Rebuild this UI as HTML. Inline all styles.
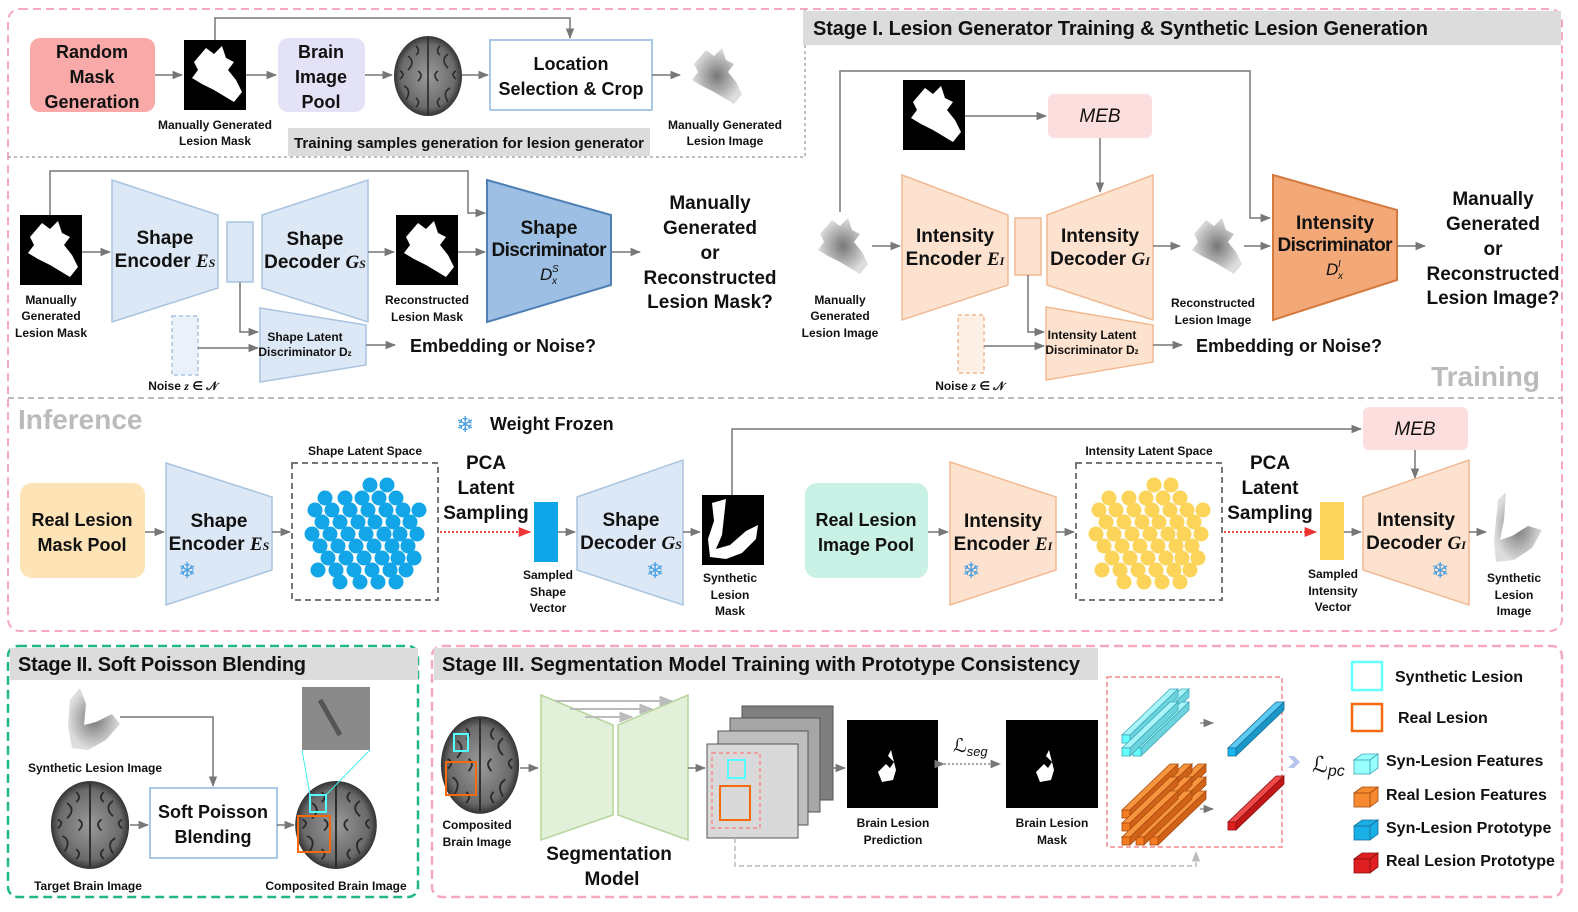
<!DOCTYPE html>
<html><head><meta charset="utf-8"><style>
html,body{margin:0;padding:0;background:#fff}
svg{display:block}
text{font-family:"Liberation Sans","DejaVu Sans",sans-serif;fill:#111}
.b{font-weight:bold}
.s{font-size:12px;font-weight:bold}
.m{font-size:18px;font-weight:bold}
.l{font-size:19px;font-weight:bold}
.sf{font-family:"DejaVu Sans",sans-serif;fill:#4a9fe0;font-size:22px}
</style></head><body>
<svg width="1578" height="912" viewBox="0 0 1578 912" xmlns="http://www.w3.org/2000/svg">
<defs>
<marker id="ar" viewBox="0 0 10 10" refX="9" refY="5" markerWidth="7" markerHeight="7" orient="auto"><path d="M0,1L10,5L0,9z" fill="#777"/></marker>
<marker id="arr" viewBox="0 0 10 10" refX="9" refY="5" markerWidth="7" markerHeight="7" orient="auto"><path d="M0,1L10,5L0,9z" fill="#e33"/></marker>
<marker id="arl" viewBox="0 0 10 10" refX="9" refY="5" markerWidth="7" markerHeight="7" orient="auto"><path d="M0,1L10,5L0,9z" fill="#bbb"/></marker>
<radialGradient id="brain" cx="50%" cy="50%" r="50%"><stop offset="0" stop-color="#9a9a9a"/><stop offset="0.8" stop-color="#6a6a6a"/><stop offset="1" stop-color="#333"/></radialGradient>
<radialGradient id="les" cx="50%" cy="50%" r="50%"><stop offset="0" stop-color="#777"/><stop offset="1" stop-color="#ddd"/></radialGradient>
<g id="mask"><rect width="62" height="70" fill="#000"/><path d="M10,22 L22,8 L30,14 L38,6 L42,18 L50,22 L44,30 L52,40 L58,52 L50,62 L40,56 L30,50 L18,44 L8,38 L14,30z" fill="#fff"/></g>
<g id="lesimg"><path d="M10,22 L22,8 L30,14 L38,6 L42,18 L50,22 L44,30 L52,40 L58,52 L50,62 L40,56 L30,50 L18,44 L8,38 L14,30z" fill="url(#les)"/></g>
<g id="brainimg"><ellipse cx="0" cy="0" rx="34" ry="40" fill="url(#brain)"/><path d="M0,-38 L0,38 M-20,-20 q8,6 0,14 M20,-22 q-8,6 0,14 M-24,10 q8,4 2,14 M22,12 q-8,4 -2,14 M-10,-5 q6,4 0,10 M10,-5 q-6,4 0,10 M-28,-5 q6,3 0,8 M28,-5 q-6,3 0,8 M-12,-30 q5,5 0,9 M12,-30 q-5,5 0,9 M-12,22 q5,4 0,9 M12,22 q-5,4 0,9" stroke="#2a2a2a" stroke-width="1.6" fill="none"/></g>
<g id="dots">
<circle cx="70" cy="15" r="7.5"/><circle cx="87" cy="15" r="7.5"/>
<circle cx="25" cy="28" r="7.5"/><circle cx="45" cy="28" r="7.5"/><circle cx="62" cy="28" r="7.5"/><circle cx="79" cy="28" r="7.5"/><circle cx="96" cy="28" r="7.5"/>
<circle cx="15" cy="40" r="7.5"/><circle cx="32" cy="40" r="7.5"/><circle cx="50" cy="40" r="7.5"/><circle cx="68" cy="40" r="7.5"/><circle cx="86" cy="40" r="7.5"/><circle cx="103" cy="40" r="7.5"/><circle cx="119" cy="40" r="7.5"/>
<circle cx="22" cy="52" r="7.5"/><circle cx="40" cy="52" r="7.5"/><circle cx="58" cy="52" r="7.5"/><circle cx="75" cy="52" r="7.5"/><circle cx="93" cy="52" r="7.5"/><circle cx="110" cy="52" r="7.5"/>
<circle cx="12" cy="64" r="7.5"/><circle cx="30" cy="64" r="7.5"/><circle cx="48" cy="64" r="7.5"/><circle cx="66" cy="64" r="7.5"/><circle cx="84" cy="64" r="7.5"/><circle cx="100" cy="64" r="7.5"/><circle cx="117" cy="64" r="7.5"/>
<circle cx="20" cy="76" r="7.5"/><circle cx="38" cy="76" r="7.5"/><circle cx="56" cy="76" r="7.5"/><circle cx="74" cy="76" r="7.5"/><circle cx="92" cy="76" r="7.5"/><circle cx="108" cy="76" r="7.5"/>
<circle cx="28" cy="88" r="7.5"/><circle cx="46" cy="88" r="7.5"/><circle cx="64" cy="88" r="7.5"/><circle cx="82" cy="88" r="7.5"/><circle cx="98" cy="88" r="7.5"/><circle cx="114" cy="88" r="7.5"/>
<circle cx="18" cy="100" r="7.5"/><circle cx="36" cy="100" r="7.5"/><circle cx="54" cy="100" r="7.5"/><circle cx="72" cy="100" r="7.5"/><circle cx="90" cy="100" r="7.5"/><circle cx="106" cy="100" r="7.5"/>
<circle cx="40" cy="112" r="7.5"/><circle cx="60" cy="112" r="7.5"/><circle cx="78" cy="112" r="7.5"/><circle cx="96" cy="112" r="7.5"/>
</g>
<g id="barC" stroke="#3aa8b8" stroke-width="0.8"><path d="M0,0L48,-46L56,-46L8,0z" fill="#a8f4fa"/><path d="M8,0L56,-46L56,-38L8,8z" fill="#6cd3dc"/><rect width="8" height="8" fill="#6ff"/></g>
<g id="barO" stroke="#a94a10" stroke-width="0.8"><path d="M0,0L48,-46L56,-46L8,0z" fill="#f7943e"/><path d="M8,0L56,-46L56,-38L8,8z" fill="#d06318"/><rect width="8" height="8" fill="#f57b20"/></g>
<g id="barB" stroke="#1a6f9a" stroke-width="0.8"><path d="M0,0L48,-46L56,-46L8,0z" fill="#5ccaf2"/><path d="M8,0L56,-46L56,-38L8,8z" fill="#1c98c8"/><rect width="8" height="8" fill="#19b8f0"/></g>
<g id="barR" stroke="#8a1010" stroke-width="0.8"><path d="M0,0L48,-46L56,-46L8,0z" fill="#ee4a4a"/><path d="M8,0L56,-46L56,-38L8,8z" fill="#c01818"/><rect width="8" height="8" fill="#e02020"/></g>
<g id="cube" stroke-width="0.8"><path d="M0,6L8,0L24,0L16,6z"/><path d="M16,6L24,0L24,14L16,20z"/><rect y="6" width="16" height="14"/></g>
</defs>

<rect x="8" y="9" width="1554" height="622" rx="12" fill="none" stroke="#f6a9bd" stroke-width="2" stroke-dasharray="8,5"/>
<path d="M8,157 H805 V9" fill="none" stroke="#aaa" stroke-width="1.5" stroke-dasharray="3,3"/>
<rect x="803" y="11" width="758" height="34" fill="#dcdcdc"/>
<text x="813" y="35" font-size="20" class="b" textLength="615">Stage I. Lesion Generator Training &amp; Synthetic Lesion Generation</text>
<line x1="8" y1="398" x2="1562" y2="398" stroke="#bbb" stroke-width="2" stroke-dasharray="6,4"/>

<rect x="30" y="38" width="125" height="74" rx="10" fill="#f9a9a8"/>
<text class="m" text-anchor="middle"><tspan x="92" y="58">Random</tspan><tspan x="92" y="83">Mask</tspan><tspan x="92" y="108">Generation</tspan></text>
<line x1="155" y1="75" x2="182" y2="75" stroke="#777" stroke-width="1.5" marker-end="url(#ar)"/>
<use href="#mask" x="184" y="40"/>
<text class="s" text-anchor="middle"><tspan x="215" y="129">Manually Generated</tspan><tspan x="215" y="145">Lesion Mask</tspan></text>
<path d="M215,40 V18 H570 V38" fill="none" stroke="#777" stroke-width="1.5" marker-end="url(#ar)"/>
<line x1="246" y1="75" x2="276" y2="75" stroke="#777" stroke-width="1.5" marker-end="url(#ar)"/>
<rect x="278" y="38" width="87" height="74" rx="10" fill="#e4e2f7"/>
<text class="m" text-anchor="middle"><tspan x="321" y="58">Brain</tspan><tspan x="321" y="83">Image</tspan><tspan x="321" y="108">Pool</tspan></text>
<line x1="365" y1="75" x2="392" y2="75" stroke="#777" stroke-width="1.5" marker-end="url(#ar)"/>
<use href="#brainimg" x="428" y="76"/>
<line x1="462" y1="75" x2="488" y2="75" stroke="#777" stroke-width="1.5" marker-end="url(#ar)"/>
<rect x="490" y="40" width="162" height="70" fill="#fff" stroke="#a9c7e6" stroke-width="2"/>
<text class="m" text-anchor="middle"><tspan x="571" y="70">Location</tspan><tspan x="571" y="95">Selection &amp; Crop</tspan></text>
<line x1="652" y1="75" x2="680" y2="75" stroke="#777" stroke-width="1.5" marker-end="url(#ar)"/>
<use href="#lesimg" x="684" y="42"/>
<text class="s" text-anchor="middle"><tspan x="725" y="129">Manually Generated</tspan><tspan x="725" y="145">Lesion Image</tspan></text>
<rect x="288" y="128" width="362" height="28" fill="#dcdcdc"/>
<text x="469" y="148" font-size="15" class="b" text-anchor="middle" textLength="350">Training samples generation for lesion generator</text>

<use href="#mask" x="20" y="215"/>
<text class="s" text-anchor="middle"><tspan x="51" y="304">Manually</tspan><tspan x="51" y="320">Generated</tspan><tspan x="51" y="337">Lesion Mask</tspan></text>
<path d="M50,215 V171 H468 V213 H485" fill="none" stroke="#777" stroke-width="1.5" marker-end="url(#ar)"/>
<line x1="82" y1="252" x2="110" y2="252" stroke="#777" stroke-width="1.5" marker-end="url(#ar)"/>
<path d="M112,180 L218,215 L218,288 L112,322z" fill="#dce8f5" stroke="#a9c3e0" stroke-width="1.5"/>
<text class="l" text-anchor="middle" font-size="17"><tspan x="165" y="244">Shape</tspan><tspan x="165" y="267">Encoder <tspan font-style="italic" font-family="Liberation Serif">E</tspan><tspan font-size="12" font-style="italic" font-family="Liberation Serif">S</tspan></tspan></text>
<rect x="227" y="222" width="26" height="60" fill="#dce8f5" stroke="#a9c3e0" stroke-width="1.5"/>
<path d="M262,215 L368,180 L368,322 L262,288z" fill="#dce8f5" stroke="#a9c3e0" stroke-width="1.5"/>
<text class="l" text-anchor="middle" font-size="17"><tspan x="315" y="245">Shape</tspan><tspan x="315" y="268">Decoder <tspan font-style="italic" font-family="Liberation Serif">G</tspan><tspan font-size="12" font-style="italic" font-family="Liberation Serif">S</tspan></tspan></text>
<line x1="368" y1="252" x2="394" y2="252" stroke="#777" stroke-width="1.5" marker-end="url(#ar)"/>
<use href="#mask" x="396" y="215"/>
<text class="s" text-anchor="middle"><tspan x="427" y="304">Reconstructed</tspan><tspan x="427" y="321">Lesion Mask</tspan></text>
<line x1="458" y1="252" x2="485" y2="252" stroke="#777" stroke-width="1.5" marker-end="url(#ar)"/>
<path d="M487,180 L611,215 L611,285 L487,322z" fill="#9dbfe3" stroke="#4f7fb5" stroke-width="2"/>
<text class="l" text-anchor="middle" font-size="15"><tspan x="549" y="234">Shape</tspan><tspan x="549" y="256" textLength="115">Discriminator</tspan></text>
<text x="540" y="280" font-size="17" font-style="italic" font-family="Liberation Serif">D</text><text x="552" y="272" font-size="10" font-style="italic" font-family="Liberation Serif">S</text><text x="552" y="284" font-size="10" font-style="italic" font-family="Liberation Serif">x</text>
<line x1="611" y1="252" x2="640" y2="252" stroke="#777" stroke-width="1.5" marker-end="url(#ar)"/>
<text class="l" text-anchor="middle"><tspan x="710" y="209">Manually</tspan><tspan x="710" y="234">Generated</tspan><tspan x="710" y="259">or</tspan><tspan x="710" y="284">Reconstructed</tspan><tspan x="710" y="308">Lesion Mask?</tspan></text>
<path d="M240,282 V332 H258" fill="none" stroke="#777" stroke-width="1.5" marker-end="url(#ar)"/>
<rect x="172" y="316" width="26" height="59" fill="#eaf1fa" stroke="#a9c3e0" stroke-width="1.5" stroke-dasharray="4,3"/>
<line x1="198" y1="348" x2="258" y2="348" stroke="#777" stroke-width="1.5" marker-end="url(#ar)"/>
<path d="M260,308 L366,325 L366,365 L260,382z" fill="#dce8f5" stroke="#a9c3e0" stroke-width="1.5"/>
<text class="s" text-anchor="middle" font-size="11"><tspan x="305" y="341">Shape Latent</tspan><tspan x="305" y="356">Discriminator D<tspan font-size="8">z</tspan></tspan></text>
<text x="183" y="390" class="s" font-size="14" text-anchor="middle">Noise <tspan font-style="italic" font-family="Liberation Serif">z</tspan> ∈ 𝒩</text>
<line x1="366" y1="345" x2="395" y2="345" stroke="#777" stroke-width="1.5" marker-end="url(#ar)"/>
<text x="410" y="352" class="m">Embedding or Noise?</text>

<use href="#lesimg" x="810" y="212"/>
<text class="s" text-anchor="middle"><tspan x="840" y="304">Manually</tspan><tspan x="840" y="320">Generated</tspan><tspan x="840" y="337">Lesion Image</tspan></text>
<path d="M840,212 V71 H1250 V218 H1270" fill="none" stroke="#777" stroke-width="1.5" marker-end="url(#ar)"/>
<use href="#mask" x="903" y="80"/>
<line x1="965" y1="116" x2="1046" y2="116" stroke="#777" stroke-width="1.5" marker-end="url(#ar)"/>
<rect x="1048" y="94" width="104" height="44" rx="6" fill="#fddede"/>
<text x="1100" y="122" font-size="19" font-style="italic" text-anchor="middle">MEB</text>
<line x1="1100" y1="138" x2="1100" y2="192" stroke="#777" stroke-width="1.5" marker-end="url(#ar)"/>
<line x1="872" y1="246" x2="900" y2="246" stroke="#777" stroke-width="1.5" marker-end="url(#ar)"/>
<path d="M902,175 L1008,215 L1008,285 L902,320z" fill="#fde3cf" stroke="#f1b993" stroke-width="1.5"/>
<text class="l" text-anchor="middle" font-size="17"><tspan x="955" y="242">Intensity</tspan><tspan x="955" y="265">Encoder <tspan font-style="italic" font-family="Liberation Serif">E</tspan><tspan font-size="12" font-style="italic" font-family="Liberation Serif">I</tspan></tspan></text>
<rect x="1015" y="218" width="26" height="57" fill="#fde3cf" stroke="#f1b993" stroke-width="1.5"/>
<path d="M1047,215 L1153,175 L1153,320 L1047,285z" fill="#fde3cf" stroke="#f1b993" stroke-width="1.5"/>
<text class="l" text-anchor="middle" font-size="17"><tspan x="1100" y="242">Intensity</tspan><tspan x="1100" y="265">Decoder <tspan font-style="italic" font-family="Liberation Serif">G</tspan><tspan font-size="12" font-style="italic" font-family="Liberation Serif">I</tspan></tspan></text>
<line x1="1153" y1="246" x2="1180" y2="246" stroke="#777" stroke-width="1.5" marker-end="url(#ar)"/>
<use href="#lesimg" x="1184" y="212"/>
<text class="s" text-anchor="middle"><tspan x="1213" y="307">Reconstructed</tspan><tspan x="1213" y="324">Lesion Image</tspan></text>
<line x1="1244" y1="246" x2="1270" y2="246" stroke="#777" stroke-width="1.5" marker-end="url(#ar)"/>
<path d="M1273,175 L1397,210 L1397,280 L1273,320z" fill="#f2a877" stroke="#d57a3e" stroke-width="2"/>
<text class="l" text-anchor="middle" font-size="15"><tspan x="1335" y="229">Intensity</tspan><tspan x="1335" y="251" textLength="115">Discriminator</tspan></text>
<text x="1326" y="275" font-size="17" font-style="italic" font-family="Liberation Serif">D</text><text x="1338" y="267" font-size="10" font-style="italic" font-family="Liberation Serif">I</text><text x="1338" y="279" font-size="10" font-style="italic" font-family="Liberation Serif">x</text>
<line x1="1397" y1="246" x2="1425" y2="246" stroke="#777" stroke-width="1.5" marker-end="url(#ar)"/>
<text class="l" text-anchor="middle"><tspan x="1493" y="205">Manually</tspan><tspan x="1493" y="230">Generated</tspan><tspan x="1493" y="255">or</tspan><tspan x="1493" y="280">Reconstructed</tspan><tspan x="1493" y="304">Lesion Image?</tspan></text>
<path d="M1028,275 V332 H1044" fill="none" stroke="#777" stroke-width="1.5" marker-end="url(#ar)"/>
<rect x="958" y="315" width="26" height="58" fill="#fdf0e6" stroke="#f1b993" stroke-width="1.5" stroke-dasharray="4,3"/>
<line x1="984" y1="346" x2="1044" y2="346" stroke="#777" stroke-width="1.5" marker-end="url(#ar)"/>
<path d="M1046,307 L1153,325 L1153,362 L1046,380z" fill="#fde3cf" stroke="#f1b993" stroke-width="1.5"/>
<text class="s" text-anchor="middle" font-size="11"><tspan x="1092" y="339">Intensity Latent</tspan><tspan x="1092" y="354">Discriminator D<tspan font-size="8">z</tspan></tspan></text>
<text x="970" y="390" class="s" font-size="14" text-anchor="middle">Noise <tspan font-style="italic" font-family="Liberation Serif">z</tspan> ∈ 𝒩</text>
<line x1="1153" y1="345" x2="1182" y2="345" stroke="#777" stroke-width="1.5" marker-end="url(#ar)"/>
<text x="1196" y="352" class="m">Embedding or Noise?</text>
<text x="1540" y="386" font-size="28" class="b" style="fill:#bbb" text-anchor="end">Training</text>

<text x="18" y="429" font-size="28" class="b" style="fill:#bbb">Inference</text>
<text x="456" y="432" class="sf">❄</text>
<text x="490" y="430" class="m">Weight Frozen</text>
<rect x="20" y="483" width="125" height="95" rx="12" fill="#fde3b5"/>
<text class="m" text-anchor="middle"><tspan x="82" y="526">Real Lesion</tspan><tspan x="82" y="551">Mask Pool</tspan></text>
<line x1="145" y1="532" x2="164" y2="532" stroke="#777" stroke-width="1.5" marker-end="url(#ar)"/>
<path d="M166,463 L272,497 L272,570 L166,605z" fill="#dce8f5" stroke="#a9c3e0" stroke-width="1.5"/>
<text class="l" text-anchor="middle" font-size="17"><tspan x="219" y="527">Shape</tspan><tspan x="219" y="550">Encoder <tspan font-style="italic" font-family="Liberation Serif">E</tspan><tspan font-size="12" font-style="italic" font-family="Liberation Serif">S</tspan></tspan></text>
<text x="178" y="578" class="sf">❄</text>
<line x1="272" y1="532" x2="290" y2="532" stroke="#777" stroke-width="1.5" marker-end="url(#ar)"/>
<rect x="292" y="463" width="146" height="137" fill="none" stroke="#777" stroke-width="2" stroke-dasharray="6,4"/>
<text x="365" y="455" class="s" font-size="14" text-anchor="middle">Shape Latent Space</text>
<use href="#dots" x="300" y="470" fill="#12a6e8"/>
<text class="l" text-anchor="middle"><tspan x="486" y="469">PCA</tspan><tspan x="486" y="494">Latent</tspan><tspan x="486" y="519">Sampling</tspan></text>
<line x1="440" y1="532" x2="530" y2="532" stroke="#e33" stroke-width="1.8" stroke-dasharray="2,2" marker-end="url(#arr)"/>
<rect x="534" y="502" width="24" height="60" fill="#0ea5e9"/>
<text class="s" text-anchor="middle"><tspan x="548" y="579">Sampled</tspan><tspan x="548" y="596">Shape</tspan><tspan x="548" y="612">Vector</tspan></text>
<line x1="558" y1="532" x2="575" y2="532" stroke="#777" stroke-width="1.5" marker-end="url(#ar)"/>
<path d="M577,497 L683,460 L683,605 L577,570z" fill="#dce8f5" stroke="#a9c3e0" stroke-width="1.5"/>
<text class="l" text-anchor="middle" font-size="17"><tspan x="631" y="526">Shape</tspan><tspan x="631" y="549">Decoder <tspan font-style="italic" font-family="Liberation Serif">G</tspan><tspan font-size="12" font-style="italic" font-family="Liberation Serif">S</tspan></tspan></text>
<text x="646" y="578" class="sf">❄</text>
<line x1="683" y1="532" x2="700" y2="532" stroke="#777" stroke-width="1.5" marker-end="url(#ar)"/>
<g transform="translate(702,495)"><rect width="62" height="70" fill="#000"/><path d="M10,8 L24,4 L22,22 L20,40 L14,54 L28,50 L44,36 L56,30 L54,44 L40,58 L24,64 L8,62 L6,44 L12,26z" fill="#fff"/></g>
<text class="s" text-anchor="middle"><tspan x="730" y="582">Synthetic</tspan><tspan x="730" y="599">Lesion</tspan><tspan x="730" y="615">Mask</tspan></text>
<path d="M732,495 V429 H1361" fill="none" stroke="#777" stroke-width="1.5" marker-end="url(#ar)"/>
<rect x="1363" y="407" width="105" height="43" rx="6" fill="#fddede"/>
<text x="1415" y="435" font-size="19" font-style="italic" text-anchor="middle">MEB</text>
<line x1="1415" y1="450" x2="1415" y2="478" stroke="#777" stroke-width="1.5" marker-end="url(#ar)"/>
<rect x="805" y="483" width="123" height="95" rx="12" fill="#c9f1e6"/>
<text class="m" text-anchor="middle"><tspan x="866" y="526">Real Lesion</tspan><tspan x="866" y="551">Image Pool</tspan></text>
<line x1="928" y1="532" x2="948" y2="532" stroke="#777" stroke-width="1.5" marker-end="url(#ar)"/>
<path d="M950,462 L1056,497 L1056,570 L950,605z" fill="#fde3cf" stroke="#f1b993" stroke-width="1.5"/>
<text class="l" text-anchor="middle" font-size="17"><tspan x="1003" y="527">Intensity</tspan><tspan x="1003" y="550">Encoder <tspan font-style="italic" font-family="Liberation Serif">E</tspan><tspan font-size="12" font-style="italic" font-family="Liberation Serif">I</tspan></tspan></text>
<text x="962" y="578" class="sf">❄</text>
<line x1="1056" y1="532" x2="1074" y2="532" stroke="#777" stroke-width="1.5" marker-end="url(#ar)"/>
<rect x="1076" y="463" width="146" height="137" fill="none" stroke="#777" stroke-width="2" stroke-dasharray="6,4"/>
<text x="1149" y="455" class="s" font-size="14" text-anchor="middle">Intensity Latent Space</text>
<use href="#dots" x="1084" y="470" fill="#fcd45a"/>
<text class="l" text-anchor="middle"><tspan x="1270" y="469">PCA</tspan><tspan x="1270" y="494">Latent</tspan><tspan x="1270" y="519">Sampling</tspan></text>
<line x1="1224" y1="532" x2="1316" y2="532" stroke="#e33" stroke-width="1.8" stroke-dasharray="2,2" marker-end="url(#arr)"/>
<rect x="1320" y="502" width="24" height="58" fill="#fcd45a"/>
<text class="s" text-anchor="middle"><tspan x="1333" y="578">Sampled</tspan><tspan x="1333" y="595">Intensity</tspan><tspan x="1333" y="611">Vector</tspan></text>
<line x1="1344" y1="532" x2="1361" y2="532" stroke="#777" stroke-width="1.5" marker-end="url(#ar)"/>
<path d="M1363,497 L1469,460 L1469,605 L1363,570z" fill="#fde3cf" stroke="#f1b993" stroke-width="1.5"/>
<text class="l" text-anchor="middle" font-size="17"><tspan x="1416" y="526">Intensity</tspan><tspan x="1416" y="549">Decoder <tspan font-style="italic" font-family="Liberation Serif">G</tspan><tspan font-size="12" font-style="italic" font-family="Liberation Serif">I</tspan></tspan></text>
<text x="1431" y="578" class="sf">❄</text>
<line x1="1469" y1="532" x2="1486" y2="532" stroke="#777" stroke-width="1.5" marker-end="url(#ar)"/>
<path d="M1498,500 L1506,492 L1504,520 L1500,540 L1512,536 L1528,526 L1542,530 L1532,548 L1514,560 L1496,562 L1494,540z" fill="url(#les)"/>
<text class="s" text-anchor="middle"><tspan x="1514" y="582">Synthetic</tspan><tspan x="1514" y="599">Lesion</tspan><tspan x="1514" y="615">Image</tspan></text>

<rect x="8" y="646" width="410" height="251" rx="10" fill="none" stroke="#22b886" stroke-width="2.5" stroke-dasharray="9,5"/>
<rect x="10" y="648" width="408" height="32" fill="#dcdcdc"/>
<text x="18" y="671" font-size="20" class="b" textLength="288">Stage II. Soft Poisson Blending</text>
<path d="M70,700 L80,688 L86,704 L84,725 L96,722 L112,714 L120,724 L106,740 L88,750 L72,748 L68,726z" fill="url(#les)"/>
<text x="95" y="772" class="s" text-anchor="middle">Synthetic Lesion Image</text>
<path d="M120,717 H213 V786" fill="none" stroke="#777" stroke-width="1.5" marker-end="url(#ar)"/>
<use href="#brainimg" transform="translate(90,825) scale(1.15,1.1)"/>
<text x="88" y="890" class="s" text-anchor="middle">Target Brain Image</text>
<line x1="130" y1="825" x2="148" y2="825" stroke="#777" stroke-width="1.5" marker-end="url(#ar)"/>
<rect x="150" y="788" width="127" height="70" fill="#fff" stroke="#a9c7e6" stroke-width="2"/>
<text class="m" text-anchor="middle"><tspan x="213" y="818">Soft Poisson</tspan><tspan x="213" y="843">Blending</tspan></text>
<line x1="277" y1="825" x2="294" y2="825" stroke="#777" stroke-width="1.5" marker-end="url(#ar)"/>
<use href="#brainimg" transform="translate(336,825) scale(1.2,1.1)"/>
<rect x="302" y="687" width="68" height="63" fill="#8a8a8a"/>
<path d="M320,700 L340,735" stroke="#555" stroke-width="5"/>
<line x1="302" y1="750" x2="310" y2="795" stroke="#4ee" stroke-width="1"/>
<line x1="370" y1="750" x2="326" y2="795" stroke="#4ee" stroke-width="1"/>
<rect x="310" y="795" width="16" height="17" fill="none" stroke="#5ff" stroke-width="2"/>
<rect x="298" y="816" width="32" height="36" fill="none" stroke="#f56a10" stroke-width="2"/>
<text x="336" y="890" class="s" text-anchor="middle">Composited Brain Image</text>

<rect x="432" y="646" width="1130" height="251" rx="10" fill="none" stroke="#f6a9bd" stroke-width="2.5" stroke-dasharray="9,5"/>
<rect x="434" y="648" width="664" height="32" fill="#dcdcdc"/>
<text x="442" y="671" font-size="20" class="b" textLength="638">Stage III. Segmentation Model Training with Prototype Consistency</text>
<use href="#brainimg" transform="translate(480,765) scale(1.15,1.22)"/>
<rect x="454" y="734" width="14" height="17" fill="none" stroke="#5ff" stroke-width="2"/>
<rect x="446" y="762" width="30" height="33" fill="none" stroke="#f56a10" stroke-width="2"/>
<text class="s" text-anchor="middle"><tspan x="477" y="829">Composited</tspan><tspan x="477" y="846">Brain Image</tspan></text>
<line x1="520" y1="768" x2="538" y2="768" stroke="#777" stroke-width="1.5" marker-end="url(#ar)"/>
<path d="M541,695 L613,725 L613,815 L541,840z" fill="#e2efd9" stroke="#b4d69c" stroke-width="1.5"/>
<path d="M618,725 L688,695 L688,840 L618,815z" fill="#e2efd9" stroke="#b4d69c" stroke-width="1.5"/>
<line x1="555" y1="701" x2="672" y2="701" stroke="#bbb" stroke-width="2" marker-end="url(#arl)"/>
<line x1="570" y1="709" x2="652" y2="709" stroke="#bbb" stroke-width="2" marker-end="url(#arl)"/>
<line x1="585" y1="717" x2="632" y2="717" stroke="#bbb" stroke-width="2" marker-end="url(#arl)"/>
<text class="l" text-anchor="middle"><tspan x="609" y="860">Segmentation</tspan><tspan x="612" y="885">Model</tspan></text>
<line x1="688" y1="768" x2="705" y2="768" stroke="#777" stroke-width="1.5" marker-end="url(#ar)"/>
<rect x="742" y="706" width="91" height="94" fill="#7f7f7f" stroke="#555"/>
<rect x="730" y="718" width="90" height="94" fill="#a6a6a6" stroke="#555"/>
<rect x="718" y="731" width="90" height="94" fill="#bfbfbf" stroke="#555"/>
<rect x="707" y="744" width="91" height="94" fill="#d9d9d9" stroke="#555"/>
<rect x="712" y="753" width="48" height="75" fill="none" stroke="#f48a8a" stroke-width="1.5" stroke-dasharray="4,3"/>
<rect x="728" y="760" width="17" height="18" fill="none" stroke="#5ff" stroke-width="2"/>
<rect x="720" y="786" width="30" height="34" fill="none" stroke="#f56a10" stroke-width="2"/>
<line x1="833" y1="768" x2="845" y2="768" stroke="#777" stroke-width="1.5" marker-end="url(#ar)"/>
<rect x="847" y="720" width="91" height="88" fill="#000"/>
<path d="M878,772 L886,764 L890,768 L894,762 L888,756 L891,750 L896,770 L893,780 L882,782z" fill="#fff"/>
<text class="s" text-anchor="middle"><tspan x="893" y="827">Brain Lesion</tspan><tspan x="893" y="844">Prediction</tspan></text>
<line x1="944" y1="764" x2="1000" y2="764" stroke="#888" stroke-width="1.5" stroke-dasharray="2,2" marker-end="url(#ar)" marker-start="url(#ar)"/>
<text x="953" y="752" font-size="19" font-style="italic" font-family="Liberation Serif">ℒ<tspan font-size="13" dy="4">seg</tspan></text>
<rect x="1006" y="720" width="92" height="88" fill="#000"/>
<path d="M1036,772 L1044,764 L1048,768 L1052,762 L1046,756 L1049,750 L1054,770 L1051,780 L1040,782z" fill="#fff"/>
<text class="s" text-anchor="middle"><tspan x="1052" y="827">Brain Lesion</tspan><tspan x="1052" y="844">Mask</tspan></text>
<rect x="1107" y="677" width="175" height="170" fill="none" stroke="#f48a8a" stroke-width="1.5" stroke-dasharray="5,3"/>
<path d="M735,838 V866 H1196 V852" fill="none" stroke="#bbb" stroke-width="1.5" stroke-dasharray="5,3" marker-end="url(#arl)"/>
<use href="#barC" x="1133" y="735"/><use href="#barC" x="1122" y="735"/>
<use href="#barC" x="1133" y="748"/><use href="#barC" x="1122" y="748"/>
<line x1="1200" y1="723" x2="1213" y2="723" stroke="#999" stroke-width="1.5" stroke-dasharray="4,2" marker-end="url(#ar)"/>
<use href="#barB" x="1228" y="748"/>
<use href="#barO" x="1150" y="810"/><use href="#barO" x="1136" y="810"/><use href="#barO" x="1122" y="810"/>
<use href="#barO" x="1150" y="823"/><use href="#barO" x="1136" y="823"/><use href="#barO" x="1122" y="823"/>
<use href="#barO" x="1150" y="837"/><use href="#barO" x="1136" y="837"/><use href="#barO" x="1122" y="837"/>
<line x1="1200" y1="809" x2="1213" y2="809" stroke="#999" stroke-width="1.5" stroke-dasharray="4,2" marker-end="url(#ar)"/>
<use href="#barR" x="1228" y="822"/>
<path d="M1300,762 l-6,-6 h-6 l6,6 l-6,6 h6z" fill="#b8c4f0"/>
<text x="1312" y="772" font-size="22" font-style="italic" font-family="Liberation Serif">ℒ<tspan font-size="16" dy="4">pc</tspan></text>
<rect x="1352" y="662" width="30" height="28" fill="none" stroke="#6ff" stroke-width="2.5"/>
<text x="1395" y="682" font-size="16" class="b">Synthetic Lesion</text>
<rect x="1352" y="704" width="30" height="27" fill="none" stroke="#f56a10" stroke-width="2.5"/>
<text x="1398" y="723" font-size="16" class="b">Real Lesion</text>
<use href="#cube" x="1354" y="754" fill="#9ff" stroke="#3aa8b8"/>
<text x="1386" y="766" font-size="16" class="b">Syn-Lesion Features</text>
<use href="#cube" x="1354" y="787" fill="#f58a30" stroke="#a94a10"/>
<text x="1386" y="800" font-size="16" class="b">Real Lesion Features</text>
<use href="#cube" x="1354" y="820" fill="#19b0e8" stroke="#1a6f9a"/>
<text x="1386" y="833" font-size="16" class="b">Syn-Lesion Prototype</text>
<use href="#cube" x="1354" y="853" fill="#e02020" stroke="#8a1010"/>
<text x="1386" y="866" font-size="16" class="b">Real Lesion Prototype</text>
</svg>
</body></html>
